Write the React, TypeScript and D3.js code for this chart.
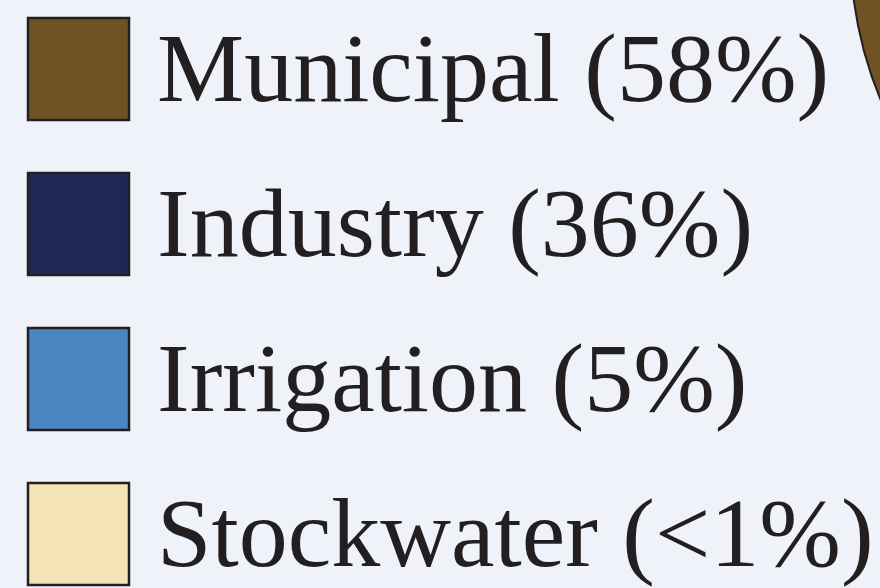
import { useEffect, useRef } from "react";
import * as d3 from "d3";

const categories = ["Municipal", "Industry", "Irrigation", "Stockwater"];
const shares = [58, 36, 5, 0.8];
const shareLabels = ["58%", "36%", "5%", "<1%"];
const colors = ["#6f5324", "#1d2854", "#4a86c2", "#f4e3b7"];

const WIDTH = 880;
const HEIGHT = 588;

export default function App() {
  const svgRef = useRef<SVGSVGElement>(null);

  useEffect(() => {
    if (!svgRef.current) return;
    const svg = d3.select(svgRef.current);
    svg.selectAll("*").remove();

    svg.append("rect")
      .attr("width", WIDTH)
      .attr("height", HEIGHT)
      .attr("fill", "#eff3f9");

    // pie, mostly outside the crop on the right
    const pie = d3.pie<number>()
      .sort(null)
      .startAngle(Math.PI * 0.6)
      .endAngle(Math.PI * 2.6);
    const arc = d3.arc<d3.PieArcDatum<number>>()
      .innerRadius(0)
      .outerRadius(405);

    const pieG = svg.append("g").attr("transform", "translate(1255,-55)");
    pieG.selectAll("path")
      .data(pie(shares))
      .enter()
      .append("path")
      .attr("d", arc)
      .attr("fill", (_, i) => colors[i])
      .attr("stroke", "#231f20")
      .attr("stroke-width", 2);

    // legend
    const y = d3.scalePoint<string>()
      .domain(categories)
      .range([101, 566]);

    const rows = svg.selectAll(".row")
      .data(categories)
      .enter()
      .append("g")
      .attr("class", "row")
      .attr("transform", d => `translate(0, ${y(d)})`);

    rows.append("rect")
      .attr("x", 28)
      .attr("y", -83)
      .attr("width", 101)
      .attr("height", 102)
      .attr("fill", (_, i) => colors[i])
      .attr("stroke", "#231f20")
      .attr("stroke-width", 2.5);

    rows.append("text")
      .attr("x", 157)
      .attr("y", 0)
      .attr("fill", "#231f20")
      .style("font-family", "'Liberation Serif', 'Times New Roman', serif")
      .style("font-size", "98px")
      .text((d, i) => `${d} (${shareLabels[i]})`);
  }, []);

  return (
    <svg
      ref={svgRef}
      width={WIDTH}
      height={HEIGHT}
      style={{ position: "absolute", left: 0, top: 0, display: "block" }}
    ></svg>
  );
}
